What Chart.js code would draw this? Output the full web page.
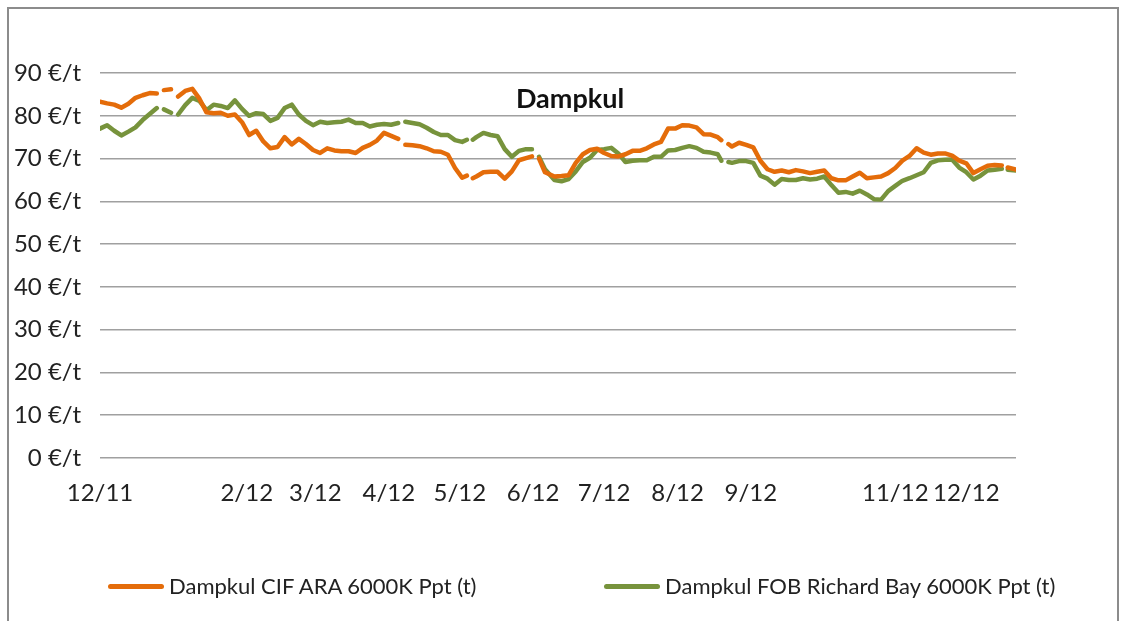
<!DOCTYPE html>
<html>
<head>
<meta charset="utf-8">
<script src="https://cdn.jsdelivr.net/npm/chart.js@4.4.1/dist/chart.umd.min.js"></script>
<style>
  html, body { margin: 0; padding: 0; background: #fff; }
  #wrap { position: relative; width: 1128px; height: 621px; overflow: hidden; font-family: Lato, sans-serif; }
  #frame { position: absolute; left: 7px; top: 7px; width: 1112px; height: 700px; border: 2px solid #8c8c8c; box-sizing: border-box; }
  #chart { position: absolute; left: 0; top: 0; }
  #titel { position: absolute; top: 81px; left: 0; width: 1140px; text-align: center; font-weight: bold; font-size: 27px; color: #111; }
  .leg { position: absolute; top: 572px; font-size: 22px; color: #222; white-space: nowrap; }
  .leg i { display: inline-block; width: 56px; height: 5px; border-radius: 3px; vertical-align: middle; margin-right: 5px; position: relative; top: -2px; }
</style>
</head>
<body>
<div id="wrap">
  <div id="frame"></div>
  <canvas id="chart" width="1128" height="621"></canvas>
  <div id="titel">Dampkul</div>
  <div class="leg" style="left:108px"><i style="background:#e46c0a"></i>Dampkul CIF ARA 6000K Ppt (t)</div>
  <div class="leg" style="left:604px"><i style="background:#77933c"></i>Dampkul FOB Richard Bay 6000K Ppt (t)</div>
</div>
<script>
// dage efter 1/12-2011
const dage = [
  0, 3, 6, 9, 12, 15, 18, 21, 24, 25.5, 27, 30, 31.5, 33, 36, 39, 42, 45, 48, 51, 54, 57, 60, 63,
  66, 69, 72, 75, 78, 81, 84, 87, 90, 93, 96, 99, 102, 105, 108, 111, 114, 117, 120, 123, 126, 127.5,
  129, 132, 135, 138, 141, 144, 147, 150, 153, 155, 156.3, 157.5, 159, 162, 165, 168, 171, 174, 177, 180,
  182.5, 184, 185.5, 188, 192, 195, 198, 201, 204, 207, 210, 213, 216, 219, 222, 225, 228, 231, 234, 237,
  240, 243, 246, 249, 252, 255, 258, 261, 262.5, 264, 265.5, 267, 270, 273, 276, 279, 282, 285, 288, 291,
  294, 297, 300, 303, 306, 309, 312, 315, 318, 321, 324, 327, 330, 333, 336, 339, 342, 345, 348, 351,
  354, 357, 360, 363, 366, 369, 372, 375, 378, 381, 382.3, 383.5, 387
];

const cifAra = [
  83.3, 82.9, 82.6, 81.9, 82.8, 84.2, 84.8, 85.3, 85.2, null, 86.0, 86.2, null, 84.5, 85.8, 86.3, 84.0, 80.8, 80.6, 80.7, 80.0, 80.3, 78.5, 75.5,
  76.5, 74.0, 72.4, 72.7, 75.0, 73.3, 74.6, 73.4, 72.0, 71.3, 72.4, 71.9, 71.7, 71.7, 71.3, 72.5, 73.2, 74.2, 76.0, 75.3, 74.6, null,
  73.2, 73.1, 72.9, 72.4, 71.7, 71.6, 70.9, 67.8, 65.5, 66.0, null, 65.4, 65.8, 66.8, 66.9, 66.9, 65.3, 67.0, 69.6, 70.1,
  70.5, null, 70.0, 66.8, 65.8, 65.9, 66.1, 69.0, 71.0, 72.0, 72.3, 71.3, 70.6, 70.5, 71.0, 71.8, 71.8, 72.4, 73.3, 73.9,
  77.0, 77.0, 77.8, 77.7, 77.3, 75.7, 75.6, 75.0, 74.3, null, 73.4, 72.8, 73.7, 73.2, 72.6, 69.5, 67.5, 66.9, 67.2, 66.8,
  67.3, 67.0, 66.6, 66.9, 67.2, 65.4, 64.9, 64.9, 65.8, 66.7, 65.4, 65.6, 65.8, 66.6, 67.8, 69.5, 70.6, 72.4, 71.4, 70.9,
  71.2, 71.2, 70.7, 69.5, 68.9, 66.6, 67.5, 68.3, 68.5, 68.4, null, 67.9, 67.4
];

const fobRichardBay = [
  77.0, 77.8, 76.5, 75.4, 76.3, 77.3, 79.0, 80.4, 81.8, null, 81.5, 80.7, null, 80.3, 82.5, 84.2, 83.5, 81.3, 82.6, 82.3, 81.8, 83.6, 81.6, 80.0,
  80.6, 80.4, 78.8, 79.5, 81.8, 82.6, 80.3, 78.8, 77.8, 78.6, 78.3, 78.5, 78.6, 79.1, 78.3, 78.3, 77.5, 77.9, 78.1, 77.9, 78.3, null,
  78.6, 78.3, 78.0, 77.2, 76.2, 75.5, 75.5, 74.3, 73.9, 74.4, null, 74.4, 75.0, 76.0, 75.5, 75.2, 72.2, 70.4, 71.8, 72.2,
  72.2, null, 70.4, 67.5, 65.0, 64.7, 65.2, 67.0, 69.2, 70.2, 72.0, 72.2, 72.5, 71.2, 69.2, 69.5, 69.6, 69.6, 70.4, 70.4,
  71.9, 72.0, 72.5, 72.9, 72.5, 71.6, 71.4, 71.0, 69.5, null, 69.2, 69.0, 69.4, 69.4, 69.0, 66.0, 65.3, 63.9, 65.2, 65.0,
  65.0, 65.4, 65.1, 65.3, 65.8, 63.8, 62.0, 62.2, 61.8, 62.5, 61.6, 60.5, 60.4, 62.4, 63.6, 64.8, 65.4, 66.1, 66.8, 69.0,
  69.6, 69.7, 69.8, 67.9, 66.8, 65.1, 66.0, 67.2, 67.4, 67.6, null, 67.4, 67.2
];

// maanedsmarkeringer paa x-aksen
const tickDage = [0, 62, 91, 122, 152, 183, 213, 244, 275, 336, 366];
const tickTekster = ['12/11', '2/12', '3/12', '4/12', '5/12', '6/12', '7/12', '8/12', '9/12', '11/12', '12/12'];

const serier = [
  { label: 'Dampkul CIF ARA 6000K Ppt (t)', values: cifAra, color: '#e46c0a' },
  { label: 'Dampkul FOB Richard Bay 6000K Ppt (t)', values: fobRichardBay, color: '#77933c' },
];

const fontAkse = { family: 'Lato', size: 24 };

new Chart(document.getElementById('chart'), {
  type: 'line',
  data: {
    datasets: serier.map((s) => ({
      label: s.label,
      data: dage.map((d, i) => ({ x: d, y: s.values[i] })),
      borderColor: s.color,
      backgroundColor: s.color,
      borderWidth: 4.5,
      borderCapStyle: 'round',
      borderJoinStyle: 'round',
      pointRadius: 0,
      tension: 0,
      spanGaps: false,
    })),
  },
  options: {
    responsive: false,
    animation: false,
    layout: { padding: { left: 0, right: 112, top: 73, bottom: 113 } },
    plugins: {
      legend: { display: false },
      tooltip: { enabled: false },
    },
    scales: {
      x: {
        type: 'linear',
        min: 0,
        max: 387,
        afterBuildTicks: (axis) => {
          axis.ticks = tickDage.map((v) => ({ value: v }));
        },
        afterFit: (scale) => { scale.height = 50; },
        grid: { display: false },
        border: { display: false },
        ticks: {
          autoSkip: false,
          maxRotation: 0,
          padding: 13,
          color: '#222',
          font: fontAkse,
          callback: (v) => tickTekster[tickDage.indexOf(v)] ?? '',
        },
      },
      y: {
        min: 0,
        max: 90,
        afterFit: (scale) => { scale.width = 100; },
        grid: { color: '#a0a0a0', lineWidth: 1.5, drawTicks: false },
        border: { display: false },
        ticks: {
          stepSize: 10,
          padding: 19,
          color: '#222',
          font: fontAkse,
          callback: (v) => v + ' €/t',
        },
      },
    },
  },
});
</script>
</body>
</html>
